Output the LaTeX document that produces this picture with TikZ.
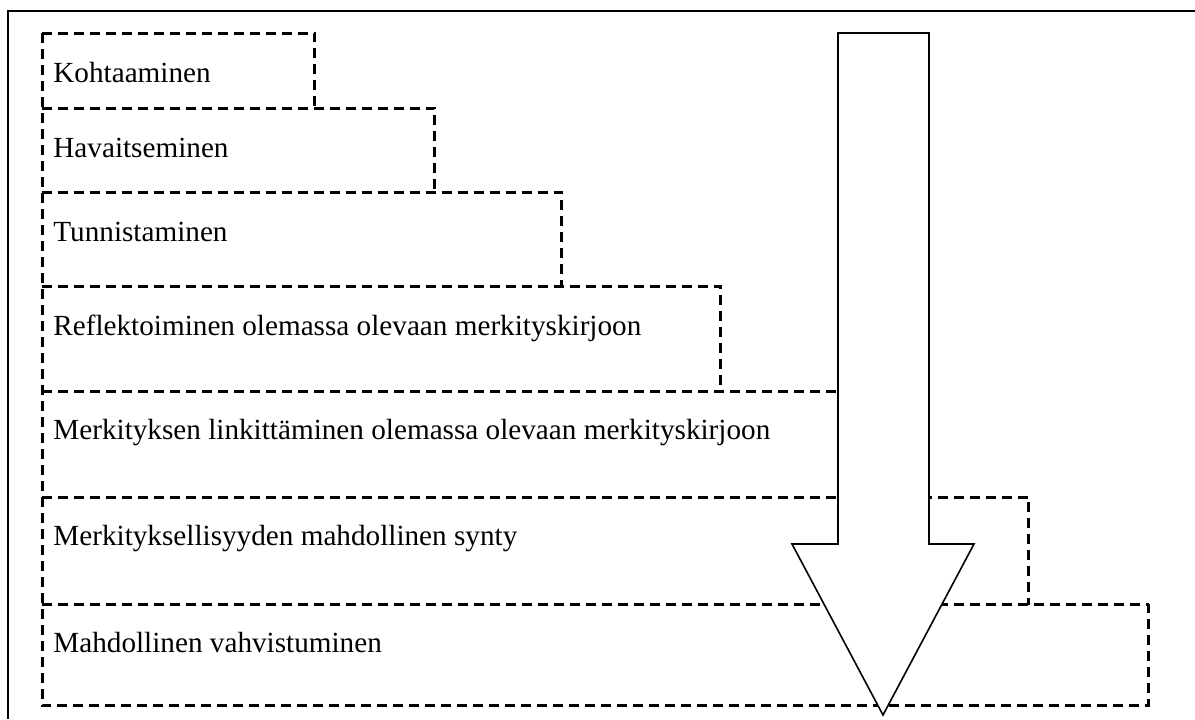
\documentclass[tikz,border=0pt]{standalone}
\usepackage{fontspec}
\setmainfont{Liberation Serif}
\usepackage{tikz}
\usetikzlibrary{positioning}

\begin{document}
\begin{tikzpicture}[x=0.5pt,y=-0.5pt,
    stagebox/.style={inner sep=0pt,anchor=north west},
    stageline/.style={dash pattern=on 5pt off 3pt,line width=1.5pt},
    stagetext/.style={anchor=base west,inner sep=0pt,font=\fontsize{14.6pt}{17pt}\selectfont}]
  \useasboundingbox (0,0) rectangle (1195,719);
  % outer frame, cut off on the right and at the bottom
  \draw[line width=1.4pt] (8,719) -- (8,11) -- (1195,11);

  % the stages, each one wider than the last
  \node[stagebox,minimum width=136pt,minimum height=37.5pt] (kohtaa) at (42,33) {};
  \node[stagebox,minimum width=196pt,minimum height=42pt]   (havait) at (42,108) {};
  \node[stagebox,minimum width=259.5pt,minimum height=47pt] (tunnis) at (42,192) {};
  \node[stagebox,minimum width=339pt,minimum height=52.5pt] (reflek) at (42,286) {};
  \node[stagebox,minimum width=429pt,minimum height=53pt]   (linkit) at (42,391) {};
  \node[stagebox,minimum width=493pt,minimum height=53.5pt] (synty)  at (42,497) {};
  \node[stagebox,minimum width=553pt,minimum height=50.5pt] (vahvis) at (42,604) {};

  % dashed outlines, shared edges drawn once
  \draw[stageline] (kohtaa.north west) -- (vahvis.south west) -- (vahvis.south east)
       -- (vahvis.north east);
  \draw[stageline] (kohtaa.north west) -- (kohtaa.north east) -- (kohtaa.south east);
  \draw[stageline] (havait.north west) -- (havait.north east) -- (havait.south east);
  \draw[stageline] (tunnis.north west) -- (tunnis.north east) -- (tunnis.south east);
  \draw[stageline] (reflek.north west) -- (reflek.north east) -- (reflek.south east);
  \draw[stageline] (linkit.north west) -- (linkit.north east) -- (linkit.south east);
  \draw[stageline] (synty.north west) -- (synty.north east) -- (synty.south east);
  \draw[stageline] (vahvis.north west) -- (vahvis.north east);

  \node[stagetext] (kohtaa-t) at (53,82)  {Kohtaaminen};
  \node[stagetext] (havait-t) at (53,157) {Havaitseminen};
  \node[stagetext] (tunnis-t) at (53,241) {Tunnistaminen};
  \node[stagetext] (reflek-t) at (53,335) {Reflektoiminen olemassa olevaan merkityskirjoon};
  \node[stagetext] (linkit-t) at (53,439) {Merkityksen linkittäminen olemassa olevaan merkityskirjoon};
  \node[stagetext] (synty-t)  at (53,545) {Merkityksellisyyden mahdollinen synty};
  \node[stagetext] (vahvis-t) at (53,652) {Mahdollinen vahvistuminen};

  % big downward arrow on top of the stages
  \draw[fill=white,line width=0.8pt] (838,33) -- (929,33) -- (929,544) -- (974,544)
       -- (883,715) -- (792,544) -- (838,544) -- cycle;
\end{tikzpicture}
\end{document}
